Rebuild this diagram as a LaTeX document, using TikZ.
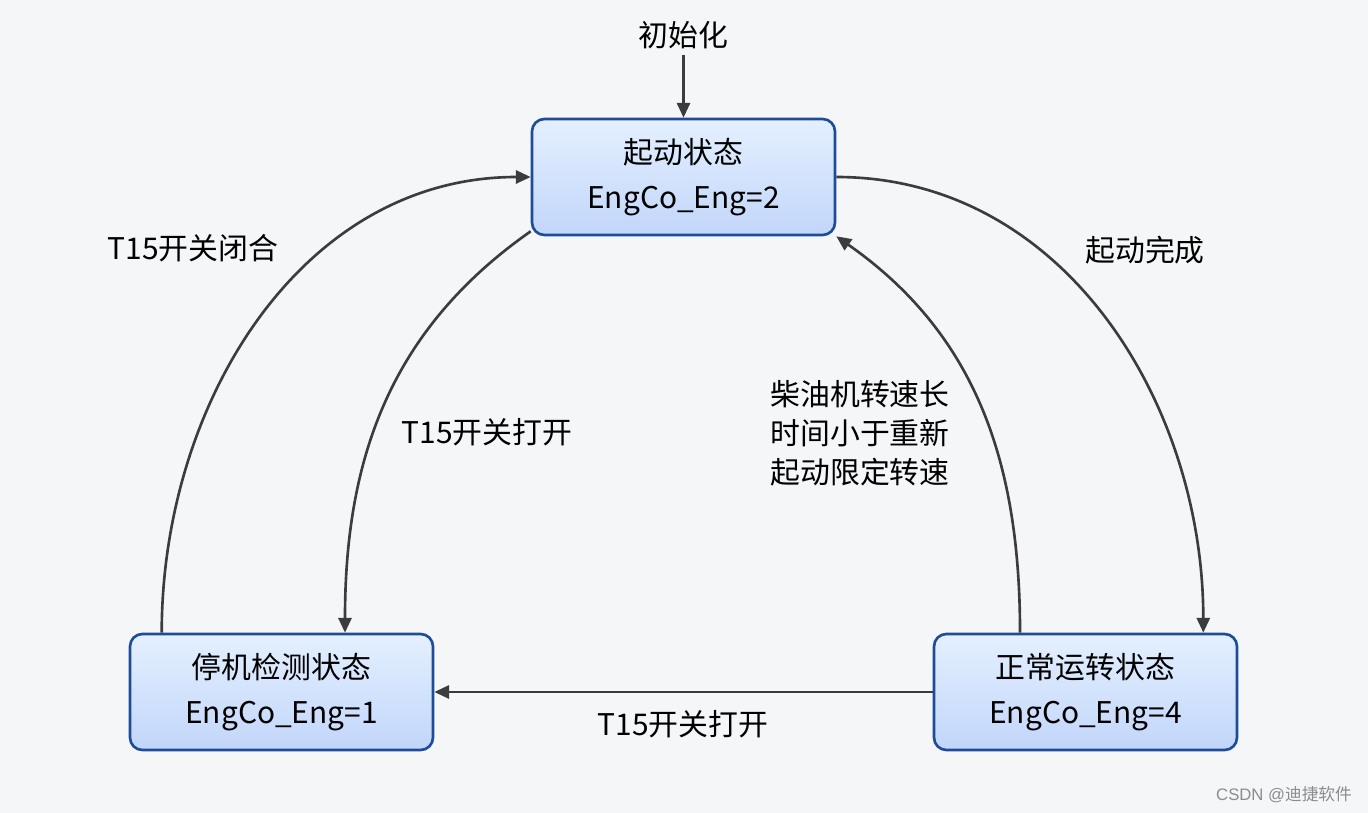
\documentclass[tikz,border=0pt]{standalone}
\usepackage{fontspec}
\setmainfont{Noto Sans CJK SC}
\newfontfamily\markfont{Liberation Sans}
\usetikzlibrary{arrows.meta}
\definecolor{bgc}{HTML}{F5F6F8}
\definecolor{boxline}{HTML}{1F4C98}
\definecolor{boxtop}{HTML}{E4F0FF}
\definecolor{boxbot}{HTML}{C2D6FA}
\definecolor{linec}{HTML}{3C3C3E}

\begin{document}
\begin{tikzpicture}[>={Triangle[length=8.5pt,width=7.5pt]},x=0.02cm,y=-0.02cm,
	state/.style={draw=boxline,line width=1.5pt,rounded corners=7pt,
		top color=boxtop,bottom color=boxbot,minimum width=6.06cm,
		minimum height=2.32cm,align=center,
		font=\fontsize{17}{25.6}\selectfont},
	link/.style={->,draw=linec,line width=1.5pt},
	lab/.style={font=\fontsize{17}{22.2}\selectfont}]
	\fill[bgc] (0,0) rectangle (1368,813);
	\useasboundingbox (0,0) rectangle (1368,813);
	\foreach \n/\x/\y/\t/\v in {
			start/683.5/177/起动状态/2,
			stop/281.5/692/停机检测状态/1,
			run/1085.5/692/正常运转状态/4
			} {
		\node[state] (\n) at (\x,\y) {\t\\EngCo\_Eng=\v};
	};
	\node[lab] (init) at (683.5,35) {初始化};
	\draw[link] (init) -- (start);
	% transitions
	\draw[link] ([xshift=0.66cm]stop.north west) to[out=90,in=180] (start.west);
	\draw[link] (start.east) to[out=0,in=90] ([xshift=-0.7cm]run.north east);
	\draw[link] ([yshift=0.1cm]start.south west) to[out=-145,in=90]
		([xshift=1.27cm]stop.north);
	\draw[link] ([xshift=-1.31cm]run.north) to[out=90,in=-35] (start.south east);
	\draw[link] (run.west) -- (stop.east);
	% labels
	\node[lab] (close) at (193,248) {T15开关闭合};
	\node[lab] (open1) at (487,432) {T15开关打开};
	\node[lab] (done) at (1145,250) {起动完成};
	\node[lab,align=left] (slow) at (860,433) {柴油机转速长\\时间小于重新\\起动限定转速};
	\node[lab] (open2) at (683,724) {T15开关打开};
	\node[font=\fontsize{9.5}{11}\selectfont,text=black!45] (mark) at (1284,795)
		{{\markfont CSDN @}迪捷软件};
\end{tikzpicture}
\end{document}
